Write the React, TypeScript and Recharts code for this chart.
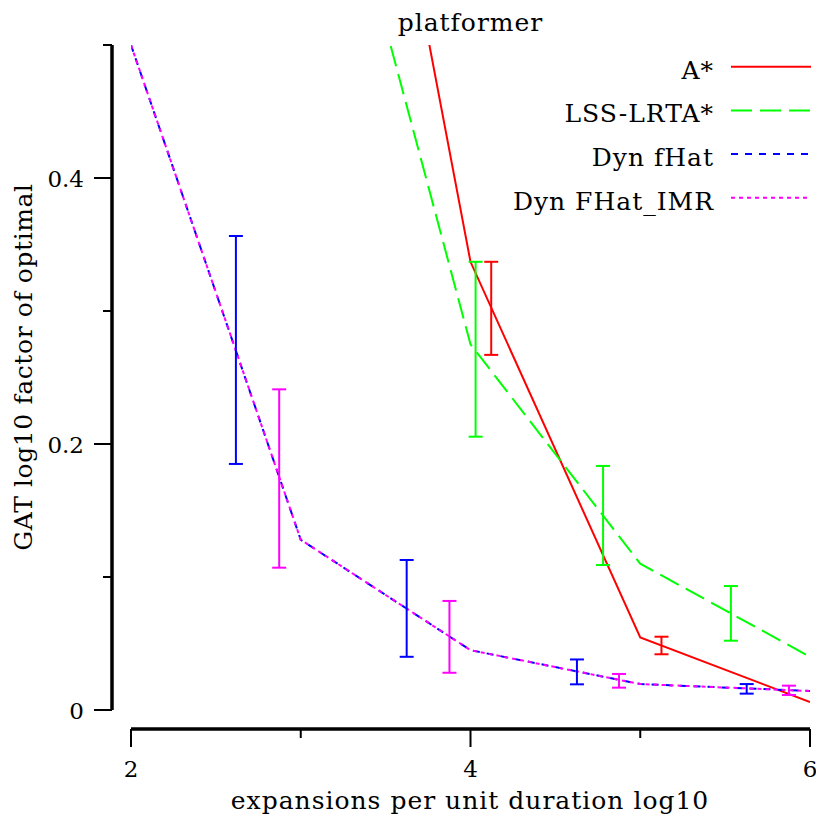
import React from 'react';
import { ComposedChart, Line, Scatter, ErrorBar, XAxis, YAxis } from 'recharts';

// ---- data ----
const xTicks = [2, 3, 4, 5, 6];
const xTickLabels = ['2', '', '4', '', '6'];
const yTicks = [0, 0.1, 0.2, 0.3, 0.4, 0.5];
const yTickLabels = ['0', '', '0.2', '', '0.4', ''];

const astarX = [3, 4, 5, 6];
const astarY = [1.01, 0.337, 0.0546, 0.006];
const lssX = [3, 4, 5, 6];
const lssY = [0.752, 0.275, 0.11, 0.04];
const fhatX = [2, 3, 4, 5, 6];
const fhatY = [0.5, 0.128, 0.045, 0.0195, 0.0143];
const imrX = [2, 3, 4, 5, 6];
const imrY = [0.5, 0.128, 0.045, 0.0195, 0.0143];

const astarErrX = [4.122, 5.125];
const astarErrLo = [0.267, 0.0419];
const astarErrHi = [0.337, 0.0551];
const lssErrX = [4.03, 4.781, 5.534];
const lssErrLo = [0.2055, 0.109, 0.0521];
const lssErrHi = [0.337, 0.1835, 0.0932];
const fhatErrX = [2.618, 3.624, 4.627, 5.627];
const fhatErrLo = [0.185, 0.04, 0.0193, 0.0123];
const fhatErrHi = [0.3564, 0.1128, 0.038, 0.0195];
const imrErrX = [2.873, 3.876, 4.875, 5.876];
const imrErrLo = [0.107, 0.028, 0.0168, 0.0113];
const imrErrHi = [0.2411, 0.082, 0.0271, 0.0183];

const seriesNames = ['A*', 'LSS-LRTA*', 'Dyn fHat', 'Dyn FHat_IMR'];

const title = 'platformer';
const xLabel = 'expansions per unit duration log10';
const yLabel = 'GAT log10 factor of optimal';

// ---- build tables ----
const toPts = (xs: number[], ys: number[]) => xs.map((x, i) => ({ x, y: ys[i] }));
const toBars = (xs: number[], lo: number[], hi: number[]) =>
  xs.map((x, i) => ({ x, y: (lo[i] + hi[i]) / 2, e: (hi[i] - lo[i]) / 2 }));

const FONT = 'DejaVu Serif';
const FS = 25;
const TFS = 23;

const series = [
  { name: seriesNames[0], color: '#ff0000', dash: undefined as string | undefined, pts: toPts(astarX, astarY), bars: toBars(astarErrX, astarErrLo, astarErrHi) },
  { name: seriesNames[1], color: '#00ff00', dash: '21 8', pts: toPts(lssX, lssY), bars: toBars(lssErrX, lssErrLo, lssErrHi) },
  { name: seriesNames[2], color: '#0000ff', dash: '7 7', pts: toPts(fhatX, fhatY), bars: toBars(fhatErrX, fhatErrLo, fhatErrHi) },
  { name: seriesNames[3], color: '#ff00ff', dash: '4 4', pts: toPts(imrX, imrY), bars: toBars(imrErrX, imrErrLo, imrErrHi) },
];

const AX_OFF = 19;

const XTick = (props: any) => {
  const { x, y, payload } = props;
  const idx = xTicks.indexOf(payload.value);
  const label = idx >= 0 ? xTickLabels[idx] : '';
  const major = label !== '';
  const ay = y + AX_OFF;
  return (
    <g>
      <line x1={x} x2={x} y1={ay} y2={ay + (major ? 18 : 9)} stroke="#000" strokeWidth={2} />
      {major && (
        <text x={x} y={y + 67} textAnchor="middle" fontFamily={FONT} fontSize={TFS} fill="#000">
          {label}
        </text>
      )}
    </g>
  );
};

const YTick = (props: any) => {
  const { x, y, payload } = props;
  const idx = yTicks.indexOf(payload.value);
  const label = idx >= 0 ? yTickLabels[idx] : '';
  const major = label !== '';
  const ax = x - AX_OFF;
  return (
    <g>
      <line x1={ax - (major ? 18 : 9)} x2={ax} y1={y} y2={y} stroke="#000" strokeWidth={2} />
      {major && (
        <text x={ax - 28} y={y + 8.5} textAnchor="end" fontFamily={FONT} fontSize={TFS} fill="#000">
          {label}
        </text>
      )}
    </g>
  );
};

const NoShape = () => <g />;

export default function App() {
  return (
    <div style={{ position: 'absolute', left: 0, top: 0, background: '#fff' }}>
      <ComposedChart width={816} height={819} margin={{ top: 45, right: 6, left: 0, bottom: 0 }}>
        <XAxis
          dataKey="x"
          type="number"
          domain={[2, 6]}
          allowDataOverflow
          ticks={xTicks}
          interval={0}
          height={109}
          tickSize={0}
          tickMargin={0}
          tickLine={false}
          axisLine={{ stroke: '#000', strokeWidth: 3.5, transform: `translate(0, ${AX_OFF})` } as any}
          tick={XTick}
        />
        <YAxis
          type="number"
          domain={[0, 0.5]}
          allowDataOverflow
          ticks={yTicks}
          interval={0}
          width={131}
          tickSize={0}
          tickMargin={0}
          tickLine={false}
          axisLine={{ stroke: '#000', strokeWidth: 3.5, transform: `translate(${-AX_OFF}, 0)` } as any}
          tick={YTick}
        />
        {series.map((s) => (
          <Line
            key={s.name}
            data={s.pts}
            dataKey="y"
            stroke={s.color}
            strokeWidth={2}
            strokeDasharray={s.dash}
            dot={false}
            activeDot={false}
            isAnimationActive={false}
            legendType="none"
          />
        ))}
        {series.map((s) => (
          <Scatter
            key={s.name + '-err'}
            data={s.bars}
            dataKey="y"
            shape={NoShape}
            isAnimationActive={false}
            legendType="none"
          >
            <ErrorBar dataKey="e" direction="y" width={7} stroke={s.color} strokeWidth={2} isAnimationActive={false} />
          </Scatter>
        ))}
        <text x={470.5} y={31} textAnchor="middle" fontFamily={FONT} fontSize={FS} letterSpacing={1} fill="#000">
          {title}
        </text>
        <text x={470} y={809} textAnchor="middle" fontFamily={FONT} fontSize={FS} letterSpacing={1} fill="#000">
          {xLabel}
        </text>
        <text
          transform="translate(32, 367) rotate(-90)"
          textAnchor="middle"
          fontFamily={FONT}
          fontSize={FS}
          letterSpacing={0.6}
          fill="#000"
        >
          {yLabel}
        </text>
        {series.map((s, i) => {
          const ly = 66.7 + 43.7 * i;
          return (
            <g key={s.name + '-leg'}>
              <text x={714} y={ly + 12} textAnchor="end" fontFamily={FONT} fontSize={FS} letterSpacing={1} fill="#000">
                {s.name}
              </text>
              <line x1={731} x2={811} y1={ly} y2={ly} stroke={s.color} strokeWidth={2} strokeDasharray={s.dash} />
            </g>
          );
        })}
      </ComposedChart>
    </div>
  );
}
